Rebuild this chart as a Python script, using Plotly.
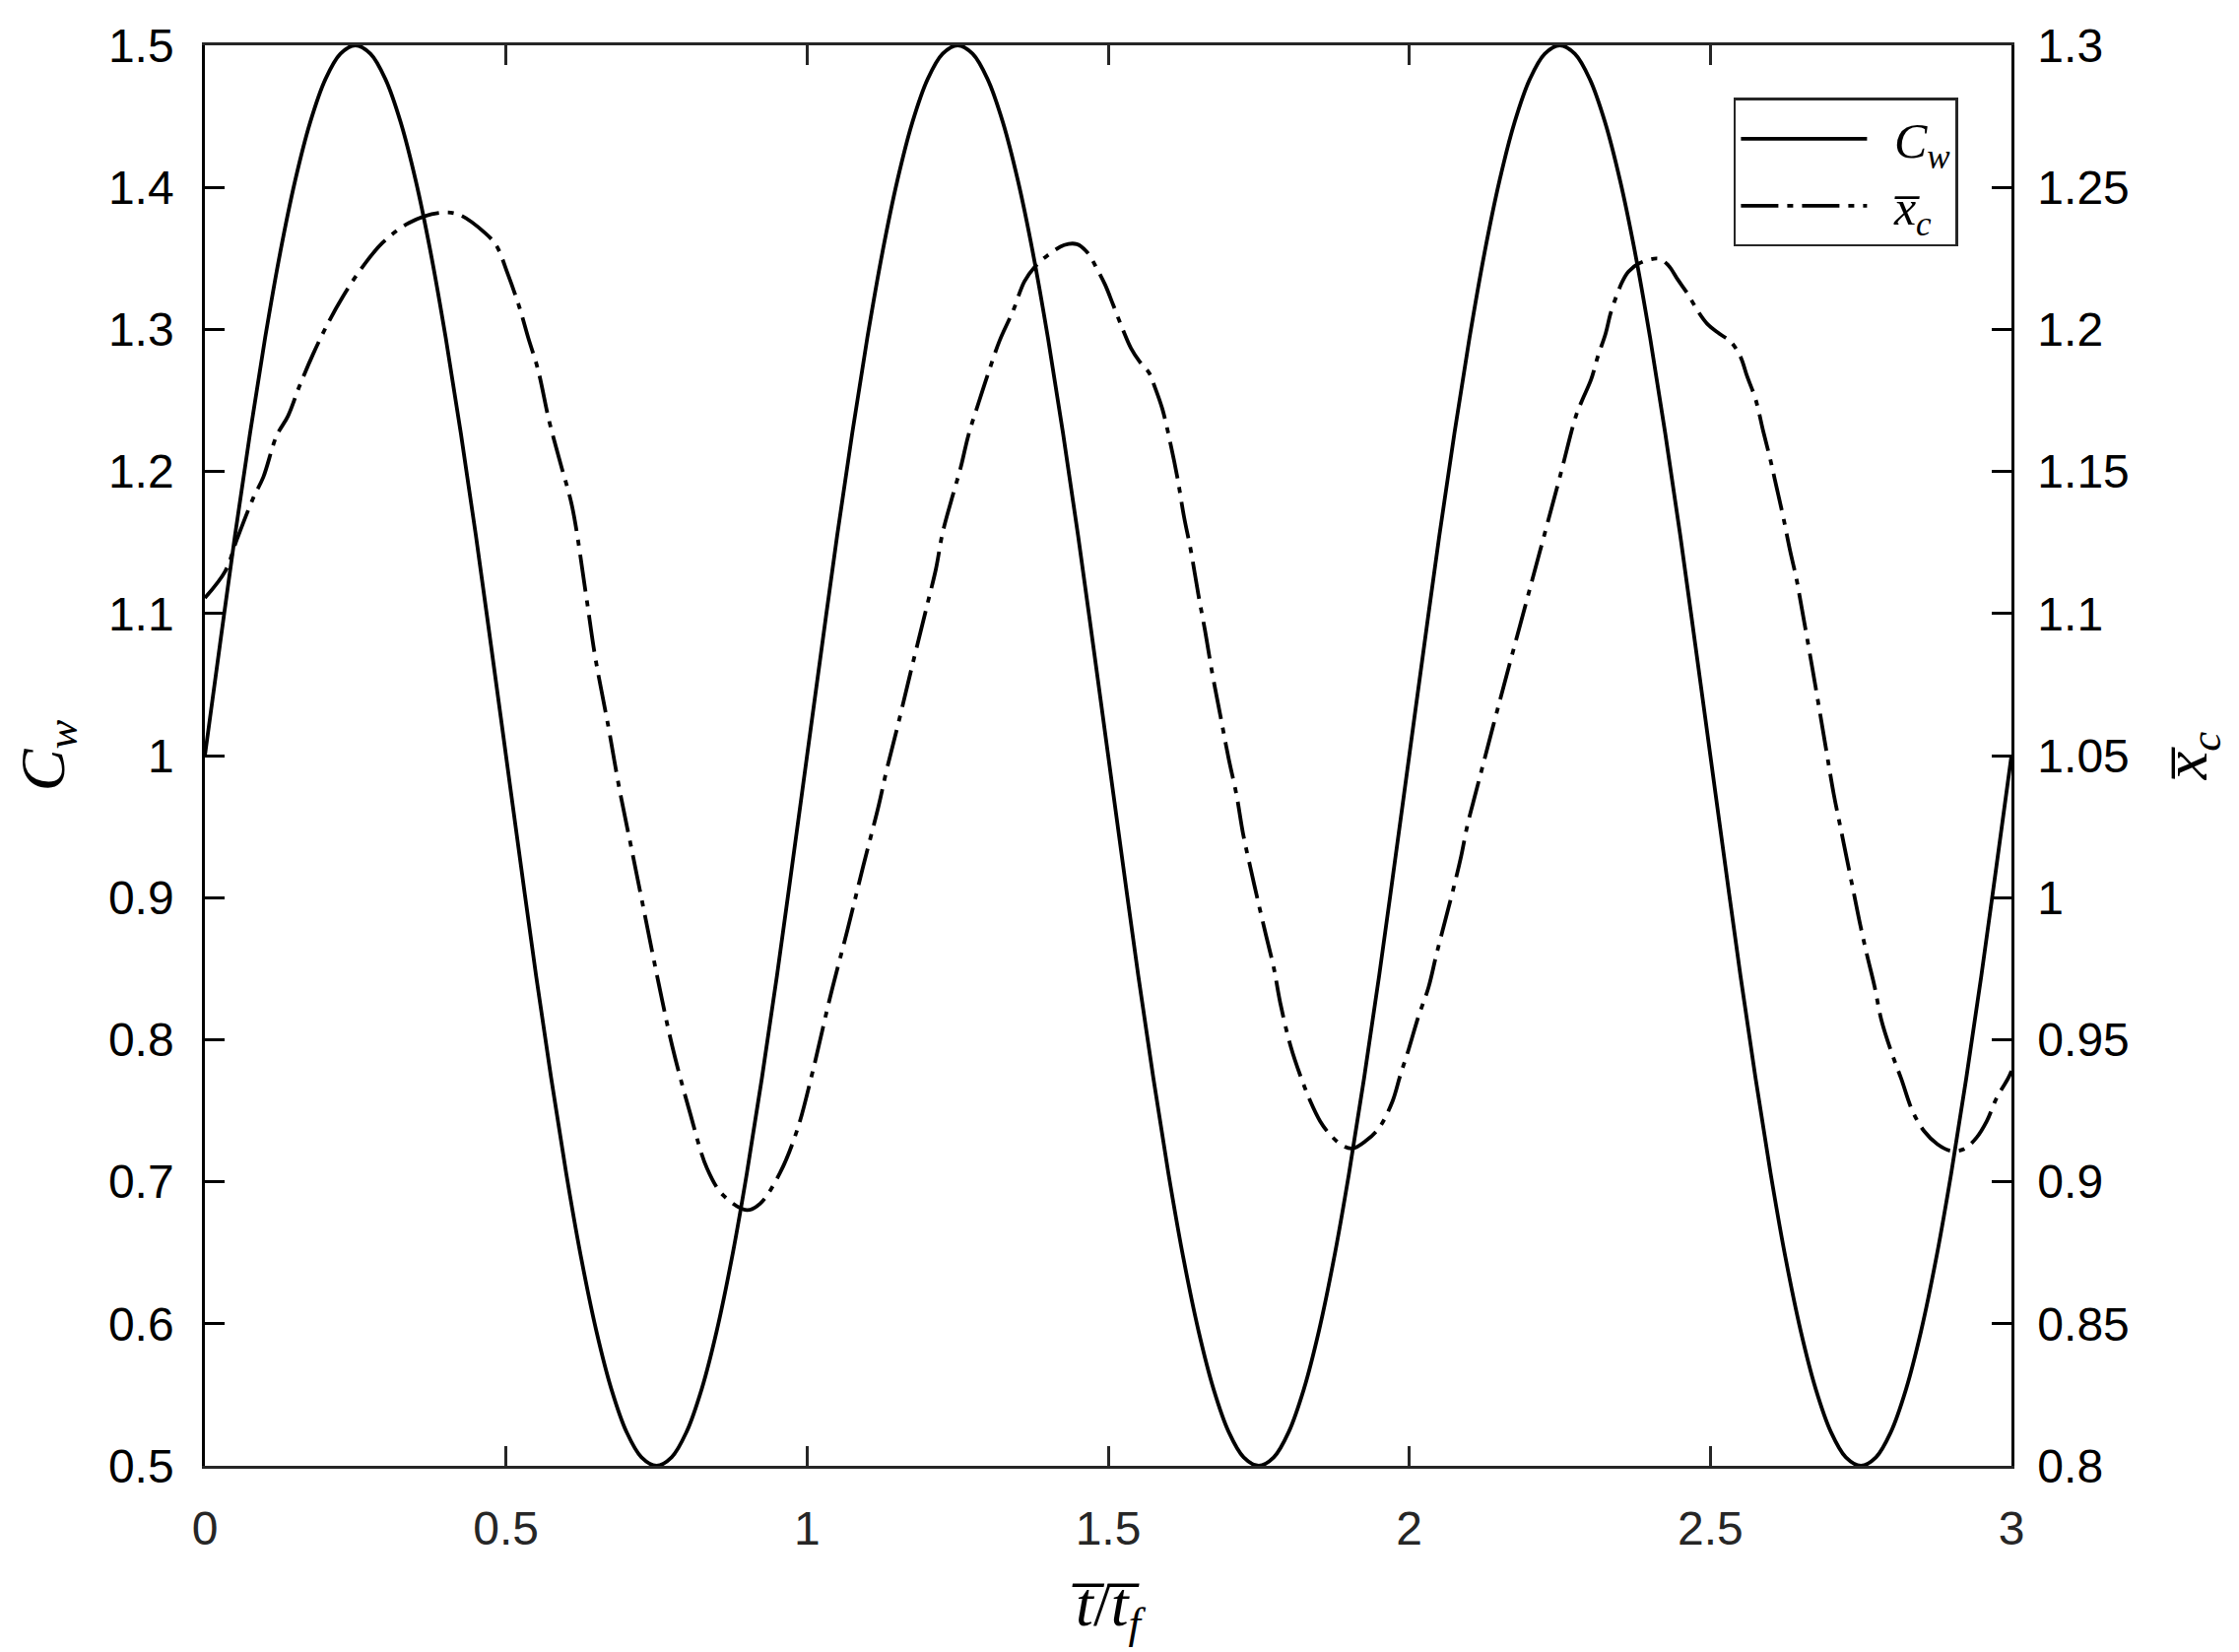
import plotly.graph_objects as go

# ---- data ----
t_cw = [0.000, 0.025, 0.050, 0.075, 0.100, 0.125, 0.150, 0.175, 0.200, 0.225,
        0.250, 0.275, 0.300, 0.325, 0.350, 0.375, 0.400, 0.425, 0.450, 0.475,
        0.500, 0.525, 0.550, 0.575, 0.600, 0.625, 0.650, 0.675, 0.700, 0.725,
        0.750, 0.775, 0.800, 0.825, 0.850, 0.875, 0.900, 0.925, 0.950, 0.975,
        1.000, 1.025, 1.050, 1.075, 1.100, 1.125, 1.150, 1.175, 1.200, 1.225,
        1.250, 1.275, 1.300, 1.325, 1.350, 1.375, 1.400, 1.425, 1.450, 1.475,
        1.500, 1.525, 1.550, 1.575, 1.600, 1.625, 1.650, 1.675, 1.700, 1.725,
        1.750, 1.775, 1.800, 1.825, 1.850, 1.875, 1.900, 1.925, 1.950, 1.975,
        2.000, 2.025, 2.050, 2.075, 2.100, 2.125, 2.150, 2.175, 2.200, 2.225,
        2.250, 2.275, 2.300, 2.325, 2.350, 2.375, 2.400, 2.425, 2.450, 2.475,
        2.500, 2.525, 2.550, 2.575, 2.600, 2.625, 2.650, 2.675, 2.700, 2.725,
        2.750, 2.775, 2.800, 2.825, 2.850, 2.875, 2.900, 2.925, 2.950, 2.975,
        3.000]
cw = [1.000, 1.078, 1.155, 1.227, 1.294, 1.354, 1.405, 1.446, 1.476, 1.494,
      1.500, 1.494, 1.476, 1.446, 1.405, 1.354, 1.294, 1.227, 1.155, 1.078,
      1.000, 0.922, 0.845, 0.773, 0.706, 0.646, 0.595, 0.554, 0.524, 0.506,
      0.500, 0.506, 0.524, 0.554, 0.595, 0.646, 0.706, 0.773, 0.845, 0.922,
      1.000, 1.078, 1.155, 1.227, 1.294, 1.354, 1.405, 1.446, 1.476, 1.494,
      1.500, 1.494, 1.476, 1.446, 1.405, 1.354, 1.294, 1.227, 1.155, 1.078,
      1.000, 0.922, 0.845, 0.773, 0.706, 0.646, 0.595, 0.554, 0.524, 0.506,
      0.500, 0.506, 0.524, 0.554, 0.595, 0.646, 0.706, 0.773, 0.845, 0.922,
      1.000, 1.078, 1.155, 1.227, 1.294, 1.354, 1.405, 1.446, 1.476, 1.494,
      1.500, 1.494, 1.476, 1.446, 1.405, 1.354, 1.294, 1.227, 1.155, 1.078,
      1.000, 0.922, 0.845, 0.773, 0.706, 0.646, 0.595, 0.554, 0.524, 0.506,
      0.500, 0.506, 0.524, 0.554, 0.595, 0.646, 0.706, 0.773, 0.845, 0.922,
      1.000]

t_xc = [0.000, 0.034, 0.053, 0.081, 0.097, 0.119, 0.138, 0.157, 0.179, 0.204,
        0.229, 0.260, 0.295, 0.339, 0.389, 0.421, 0.465, 0.484, 0.503, 0.522,
        0.537, 0.553, 0.572, 0.591, 0.610, 0.633, 0.648, 0.670, 0.688, 0.710,
        0.732, 0.754, 0.776, 0.805, 0.834, 0.860, 0.900, 0.922, 0.955, 0.984,
        1.009, 1.038, 1.068, 1.093, 1.119, 1.132, 1.150, 1.175, 1.200, 1.214,
        1.225, 1.241, 1.255, 1.268, 1.285, 1.301, 1.320, 1.342, 1.361, 1.378,
        1.399, 1.427, 1.448, 1.465, 1.481, 1.495, 1.508, 1.525, 1.538, 1.552,
        1.568, 1.577, 1.590, 1.604, 1.615, 1.626, 1.637, 1.650, 1.661, 1.672,
        1.690, 1.700, 1.713, 1.724, 1.737, 1.748, 1.762, 1.775, 1.786, 1.803,
        1.819, 1.836, 1.852, 1.868, 1.890, 1.906, 1.928, 1.950, 1.972, 1.985,
        1.999, 2.015, 2.032, 2.045, 2.059, 2.073, 2.086, 2.097, 2.111, 2.150,
        2.200, 2.250, 2.277, 2.288, 2.302, 2.313, 2.326, 2.334, 2.345, 2.354,
        2.364, 2.381, 2.414, 2.430, 2.446, 2.463, 2.479, 2.495, 2.515, 2.534,
        2.550, 2.561, 2.575, 2.588, 2.599, 2.610, 2.621, 2.632, 2.643, 2.648,
        2.670, 2.690, 2.705, 2.716, 2.727, 2.738, 2.749, 2.760, 2.773, 2.784,
        2.801, 2.817, 2.836, 2.855, 2.877, 2.899, 2.921, 2.942, 2.959, 2.975,
        2.994, 3.000]
xc = [1.1055, 1.1150, 1.1260, 1.1410, 1.1480, 1.1625, 1.1695, 1.1800, 1.1910, 1.2020,
      1.2115, 1.2215, 1.2305, 1.2375, 1.2410, 1.2405, 1.2340, 1.2295, 1.2195, 1.2080,
      1.1970, 1.1860, 1.1675, 1.1525, 1.1375, 1.1064, 1.0849, 1.0602, 1.0387, 1.0156,
      0.9924, 0.9693, 0.9478, 0.9247, 0.9046, 0.8954, 0.8900, 0.8923, 0.9031, 0.9185,
      0.9385, 0.9647, 0.9894, 1.0109, 1.0325, 1.0448, 1.0600, 1.0820, 1.1035, 1.1157,
      1.1283, 1.1409, 1.1513, 1.1628, 1.1743, 1.1847, 1.1962, 1.2065, 1.2169, 1.2220,
      1.2260, 1.2297, 1.2300, 1.2272, 1.2215, 1.2157, 1.2088, 1.1996, 1.1933, 1.1887,
      1.1847, 1.1800, 1.1720, 1.1593, 1.1478, 1.1340, 1.1225, 1.1064, 1.0938, 1.0800,
      1.0600, 1.0490, 1.0363, 1.0225, 1.0098, 0.9995, 0.9868, 0.9753, 0.9627, 0.9477,
      0.9374, 0.9282, 0.9213, 0.9167, 0.9126, 0.9117, 0.9144, 0.9190, 0.9282, 0.9374,
      0.9466, 0.9580, 0.9684, 0.9799, 0.9914, 1.0029, 1.0144, 1.0259, 1.0374, 1.0690,
      1.1085, 1.1480, 1.1697, 1.1755, 1.1824, 1.1904, 1.1985, 1.2054, 1.2123, 1.2169,
      1.2203, 1.2232, 1.2249, 1.2226, 1.2175, 1.2123, 1.2065, 1.2019, 1.1985, 1.1956,
      1.1904, 1.1835, 1.1755, 1.1640, 1.1547, 1.1444, 1.1340, 1.1225, 1.1122, 1.1064,
      1.0800, 1.0550, 1.0363, 1.0248, 1.0133, 1.0018, 0.9903, 0.9799, 0.9684, 0.9569,
      0.9454, 0.9362, 0.9247, 0.9178, 0.9132, 0.9109, 0.9115, 0.9155, 0.9213, 0.9293,
      0.9362, 0.9390]

x_ticks = [0, 0.5, 1, 1.5, 2, 2.5, 3]
x_ticktext = ["0", "0.5", "1", "1.5", "2", "2.5", "3"]
yl_ticks = [0.5, 0.6, 0.7, 0.8, 0.9, 1.0, 1.1, 1.2, 1.3, 1.4, 1.5]
yl_ticktext = ["0.5", "0.6", "0.7", "0.8", "0.9", "1", "1.1", "1.2", "1.3", "1.4", "1.5"]
yr_ticks = [0.8, 0.85, 0.9, 0.95, 1.0, 1.05, 1.1, 1.15, 1.2, 1.25, 1.3]
yr_ticktext = ["0.8", "0.85", "0.9", "0.95", "1", "1.05", "1.1", "1.15", "1.2", "1.25", "1.3"]

BAR = "\u0305"  # combining overline
GAP = "\u00a0\u2009"
name_cw = "<i>C</i><sub><i>w</i></sub>"
name_xc = "<i>x" + BAR + "</i><sub><i>c</i></sub>"
xtitle = "<i>t" + BAR + "</i>/<i>t" + BAR + "</i><sub><i>f</i></sub>"

AX = "#262626"
TICKFONT = dict(family="Liberation Sans, Arial", size=48)
MATHFONT = dict(family="Liberation Serif, Times New Roman", size=64, color="black")

fig = go.Figure()
fig.add_trace(go.Scatter(x=t_cw, y=cw, mode="lines", name=GAP + name_cw, yaxis="y",
                         line=dict(color="black", width=3.8, shape="spline")))
fig.add_trace(go.Scatter(x=t_xc, y=xc, mode="lines", name=GAP + name_xc, yaxis="y2",
                         line=dict(color="black", width=3.8, shape="spline",
                                   dash="38px,9px,6px,9px")))

fig.update_layout(
    width=2273, height=1677,
    margin=dict(l=200, r=239, t=31, b=197),
    paper_bgcolor="white", plot_bgcolor="white",
    showlegend=True,
    legend=dict(x=0.9705, y=0.963, xanchor="right", yanchor="top",
                bgcolor="white", bordercolor=AX, borderwidth=2.5,
                font=dict(family="Liberation Serif, Times New Roman", size=50, color="black"),
                itemwidth=128, tracegroupgap=0),
    xaxis=dict(range=[0, 3], tickvals=x_ticks, ticktext=x_ticktext,
               ticks="inside", ticklen=20, tickwidth=2.5, tickcolor=AX,
               showline=True, linewidth=2.5, linecolor=AX, mirror="ticks",
               showgrid=False, zeroline=False,
               tickfont=dict(TICKFONT, color=AX), ticklabelstandoff=20,
               title=dict(text=xtitle, font=MATHFONT, standoff=28)),
    yaxis=dict(range=[0.5, 1.5], tickvals=yl_ticks, ticktext=yl_ticktext,
               ticks="inside", ticklen=20, tickwidth=2.5, tickcolor="black",
               showline=True, linewidth=2.5, linecolor="black",
               showgrid=False, zeroline=False,
               tickfont=dict(TICKFONT, color="black"), ticklabelstandoff=19,
               title=dict(text=name_cw, font=MATHFONT, standoff=44)),
    yaxis2=dict(range=[0.8, 1.3], tickvals=yr_ticks, ticktext=yr_ticktext,
                overlaying="y", side="right",
                ticks="inside", ticklen=20, tickwidth=2.5, tickcolor="black",
                showline=True, linewidth=2.5, linecolor="black",
                showgrid=False, zeroline=False,
                tickfont=dict(TICKFONT, color="black"), ticklabelstandoff=14,
                title=dict(text=name_xc, font=MATHFONT, standoff=35)),
)

fig.write_html("out.html")
